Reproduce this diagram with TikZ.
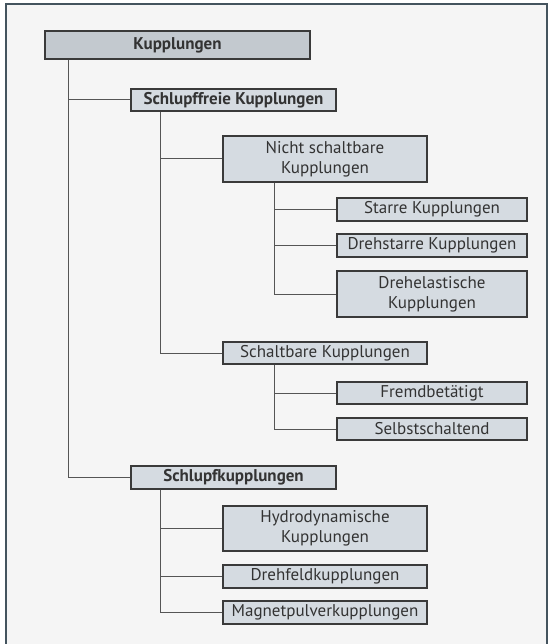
\documentclass[tikz,border=0pt]{standalone}
\usepackage{fontspec}
\setmainfont{PT Sans}
\definecolor{framec}{HTML}{44545E}
\definecolor{bgc}{HTML}{F5F5F5}
\definecolor{boxfill}{HTML}{D5DBE1}
\definecolor{topfill}{HTML}{C3C9CF}
\definecolor{boxline}{HTML}{3A3A3A}
\definecolor{linec}{HTML}{555555}
\definecolor{txt}{HTML}{333333}
\begin{document}
\begin{tikzpicture}[x=1pt,y=-1pt,
  box/.style={draw=boxline,line width=1.1pt,fill=boxfill,text=txt,font=\fontsize{17}{20}\selectfont,
    align=center,inner sep=0pt,minimum height=23pt},
  boldbox/.style={box,font=\bfseries\fontsize{17}{20}\selectfont},
  conn/.style={draw=linec,line width=1pt}]
\useasboundingbox (0,0) rectangle (548,644);
\fill[bgc] (6,4) rectangle (547,644);
\draw[framec,line width=2.2pt] (6,650) -- (6,4) -- (547,4) -- (547,650);
% nodes
\node[boldbox,fill=topfill,minimum width=265pt,minimum height=28pt] (k) at (177.5,45) {Kupplungen};
\node[boldbox,minimum width=205pt,minimum height=22pt] (sf) at (233.5,100) {Schlupffreie Kupplungen};
\node[box,minimum width=204pt,minimum height=46pt] (ns) at (325,159) {Nicht schaltbare\\Kupplungen};
\node[box,minimum width=190pt] (st) at (432,209.5) {Starre Kupplungen};
\node[box,minimum width=190pt] (ds) at (432,245.5) {Drehstarre Kupplungen};
\node[box,minimum width=190pt,minimum height=46pt] (de) at (432,294) {Drehelastische\\Kupplungen};
\node[box,minimum width=204pt,minimum height=22pt] (sb) at (325,353) {Schaltbare Kupplungen};
\node[box,minimum width=190pt,minimum height=22pt] (fb) at (432,393) {Fremdbetätigt};
\node[box,minimum width=190pt,minimum height=22pt] (ss) at (432,429) {Selbstschaltend};
\node[boldbox,minimum width=205pt] (sk) at (233.5,477.5) {Schlupfkupplungen};
\node[box,minimum width=204pt,minimum height=45pt] (hd) at (325,528.5) {Hydrodynamische\\Kupplungen};
\node[box,minimum width=204pt] (df) at (325,576.5) {Drehfeldkupplungen};
\node[box,minimum width=204pt] (mp) at (325,612.5) {Magnetpulverkupplungen};
% trunk coordinates
\coordinate (t1) at (68,0);
\coordinate (t2) at (160,0);
\coordinate (t3) at (274,0);
% connectors
\draw[conn] (t1 |- k.south) |- (sf.west);
\draw[conn] (t1 |- k.south) |- (sk.west);
\draw[conn] (t2 |- sf.south) |- (ns.west);
\draw[conn] (t2 |- sf.south) |- (sb.west);
\draw[conn] (t3 |- ns.south) |- (st.west);
\draw[conn] (t3 |- ns.south) |- (ds.west);
\draw[conn] (t3 |- ns.south) |- (de.west);
\draw[conn] (t3 |- sb.south) |- (fb.west);
\draw[conn] (t3 |- sb.south) |- (ss.west);
\draw[conn] (t2 |- sk.south) |- (hd.west);
\draw[conn] (t2 |- sk.south) |- (df.west);
\draw[conn] (t2 |- sk.south) |- (mp.west);
\end{tikzpicture}
\end{document}
